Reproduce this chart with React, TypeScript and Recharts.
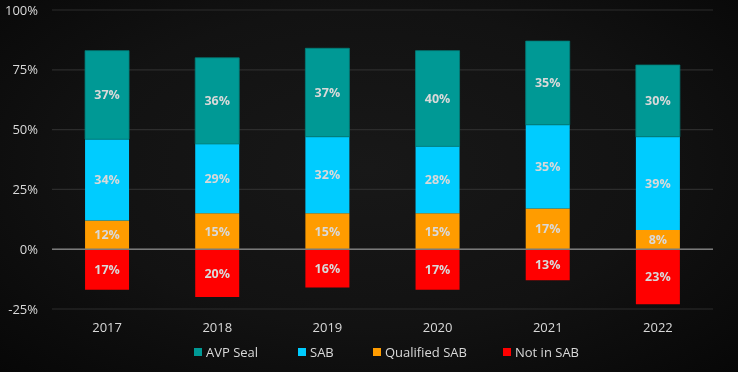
import React from "react";
import { BarChart, Bar, XAxis, YAxis, CartesianGrid, ReferenceLine, LabelList, Legend } from "recharts";

const years = ["2017", "2018", "2019", "2020", "2021", "2022"];
const avpSeal = [37, 36, 37, 40, 35, 30];
const sab = [34, 29, 32, 28, 35, 39];
const qualifiedSab = [12, 15, 15, 15, 17, 8];
const notInSab = [-17, -20, -16, -17, -13, -23];
const yTicks = [-25, 0, 25, 50, 75, 100];

const data = years.map((y, i) => ({
  year: y,
  avp: avpSeal[i],
  sab: sab[i],
  qual: qualifiedSab[i],
  notin: notInSab[i],
}));

const legendItems = [
  { name: "AVP Seal", color: "#009995", w: 104 },
  { name: "SAB", color: "#00ccff", w: 75 },
  { name: "Qualified SAB", color: "#ff9c00", w: 130 },
  { name: "Not in SAB", color: "#ff0000", w: 90 },
];

const FONT = "'Open Sans', 'Noto Sans', sans-serif";
const TXT = "#d9d9d9";

const labelFmt = (v: any) => `${Math.abs(Number(v))}%`;

const CustomLegend = () => (
  <div style={{ height: 33, width: 738, display: "flex", justifyContent: "flex-start", alignItems: "flex-start", paddingTop: 4, paddingLeft: 194, boxSizing: "border-box", fontFamily: FONT, fontSize: 13, color: TXT, lineHeight: "18px" }}>
    {legendItems.map((it) => (
      <div key={it.name} style={{ display: "flex", alignItems: "center", width: it.w }}>
        <span style={{ width: 8, height: 8, background: it.color, display: "inline-block", marginRight: 4 }} />
        <span>{it.name}</span>
      </div>
    ))}
  </div>
);

const labelStyle = { fill: TXT, fontFamily: FONT, fontSize: 12.5, fontWeight: 700 };

export default function App() {
  return (
    <div style={{ position: "fixed", left: 0, top: 0, width: 738, height: 372, background: "radial-gradient(ellipse at 50% 45%, #181818 0%, #121212 55%, #070707 100%)" }}>
      <BarChart width={738} height={372} data={data} stackOffset="sign" margin={{ top: 10, right: 25, left: 0, bottom: 0 }} barCategoryGap="30%">
        <CartesianGrid vertical={false} stroke="#2c2c2c" strokeWidth={1.2} />
        <XAxis dataKey="year" axisLine={false} tickLine={false} tickSize={0} tickMargin={14} height={30} tick={{ fill: TXT, fontFamily: FONT, fontSize: 13 }} />
        <YAxis domain={[-25, 100]} ticks={yTicks} width={52} axisLine={false} tickLine={false} tickSize={0} tickMargin={14} tickFormatter={(v: number) => `${v}%`} tick={{ fill: TXT, fontFamily: FONT, fontSize: 13 }} />
        <Legend verticalAlign="bottom" wrapperStyle={{ left: 0, width: 738 }} content={<CustomLegend />} />
        <Bar dataKey="notin" stackId="a" fill="#ff0000" isAnimationActive={false}>
          <LabelList dataKey="notin" position="center" formatter={labelFmt} style={labelStyle} />
        </Bar>
        <Bar dataKey="qual" stackId="a" fill="#ff9c00" isAnimationActive={false}>
          <LabelList dataKey="qual" position="center" formatter={labelFmt} style={labelStyle} />
        </Bar>
        <Bar dataKey="sab" stackId="a" fill="#00ccff" isAnimationActive={false}>
          <LabelList dataKey="sab" position="center" formatter={labelFmt} style={labelStyle} />
        </Bar>
        <Bar dataKey="avp" stackId="a" fill="#009995" stroke="#007d79" strokeWidth={0.8} isAnimationActive={false}>
          <LabelList dataKey="avp" position="center" formatter={labelFmt} style={labelStyle} />
        </Bar>
        <ReferenceLine y={0} stroke="#7a7a7a" strokeWidth={1.5} />
      </BarChart>
    </div>
  );
}
